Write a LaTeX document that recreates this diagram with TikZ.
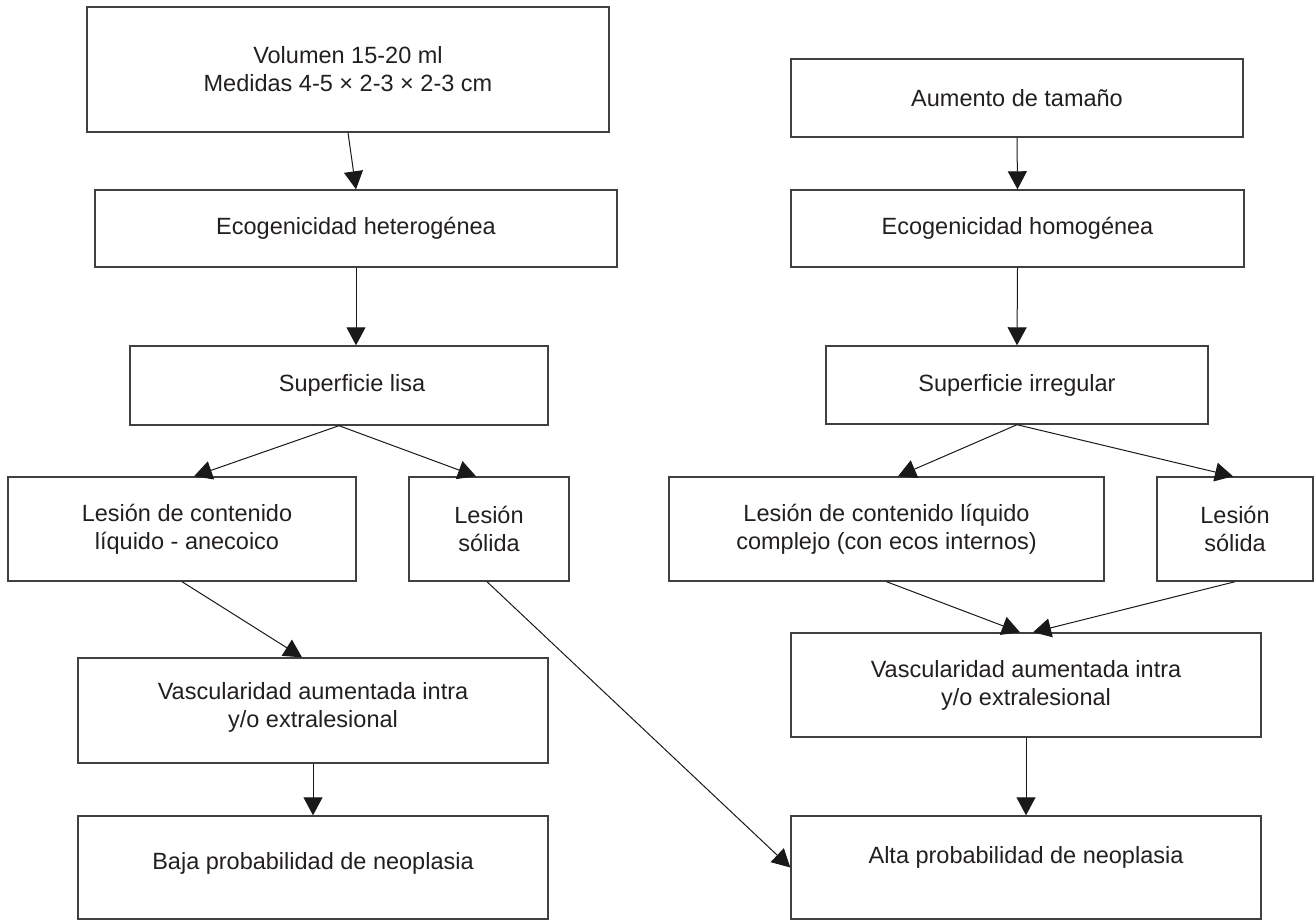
\documentclass[tikz,border=0pt]{standalone}
\usepackage{fontspec}
\setmainfont{Liberation Sans}
\usetikzlibrary{arrows.meta,calc}
\definecolor{boxline}{HTML}{404040}
\definecolor{txt}{HTML}{231F20}
\tikzset{
  flowbox/.style={draw=boxline, line width=1.4pt, rectangle, align=center, inner sep=0pt,
    text=txt, font=\fontsize{23.5pt}{28pt}\selectfont},
  flowarrow/.style={draw=black!90, line width=1pt, -{Triangle[length=18pt,width=19pt]}}
}
\begin{document}
\begin{tikzpicture}[x=1pt,y=-1pt]
\useasboundingbox (0,0) rectangle (1316,920);
% left column
\node[flowbox, minimum width=522pt, minimum height=125pt] (vol) at (348,69.5) {Volumen 15-20 ml\\Medidas 4-5 × 2-3 × 2-3 cm};
\node[flowbox, minimum width=522pt, minimum height=77pt] (ehet) at (356,228.5) {Ecogenicidad heterogénea};
\node[flowbox, minimum width=418pt, minimum height=79pt] (slisa) at (339,385.5) {\hspace*{26pt}Superficie lisa};
\node[flowbox, minimum width=348pt, minimum height=104pt] (lliq) at (182,529) {\hspace*{10pt}Lesión de contenido\\\hspace*{10pt}líquido - anecoico};
\node[flowbox, minimum width=160pt, minimum height=104pt] (lsol) at (489,529) {Lesión\\sólida};
\node[flowbox, minimum width=470pt, minimum height=105pt] (vascL) at (313,710.5) {\raisebox{3pt}[\height][\depth]{\begin{tabular}{@{}c@{}}Vascularidad aumentada intra\\y/o extralesional\end{tabular}}};
\node[flowbox, minimum width=470pt, minimum height=103pt] (baja) at (313,867.5) {\raisebox{4pt}[\height][\depth]{Baja probabilidad de neoplasia}};
% right column
\node[flowbox, minimum width=452pt, minimum height=78pt] (aum) at (1017,98) {Aumento de tamaño};
\node[flowbox, minimum width=453pt, minimum height=77pt] (ehom) at (1017.5,228.5) {Ecogenicidad homogénea};
\node[flowbox, minimum width=382pt, minimum height=78pt] (sirr) at (1017,385) {Superficie irregular};
\node[flowbox, minimum width=435pt, minimum height=104pt] (lcom) at (886.5,529) {Lesión de contenido líquido\\complejo (con ecos internos)};
\node[flowbox, minimum width=156pt, minimum height=104pt] (lsolR) at (1235,529) {Lesión\\sólida};
\node[flowbox, minimum width=470pt, minimum height=104pt] (vascR) at (1026,685) {Vascularidad aumentada intra\\y/o extralesional};
\node[flowbox, minimum width=470pt, minimum height=103pt] (alta) at (1026,867.5) {\raisebox{10pt}[\height][\depth]{Alta probabilidad de neoplasia}};
% connectors left
\draw[flowarrow] (vol.south) -- (ehet.north);
\draw[flowarrow] (ehet.south) -- (slisa.north -| ehet.south);
\draw[flowarrow] (slisa.south) -- ([xshift=12pt]lliq.north);
\draw[flowarrow] (slisa.south) -- ([xshift=-13pt]lsol.north);
\draw[flowarrow] (lliq.south) -- ([xshift=-11pt]vascL.north);
\draw[flowarrow] (vascL.south) -- (baja.north);
\draw[flowarrow] ([xshift=-2pt]lsol.south) -- (alta.west);
% connectors right
\draw[flowarrow] (aum.south) -- (ehom.north);
\draw[flowarrow] (ehom.south) -- (sirr.north);
\draw[flowarrow] (sirr.south) -- ([xshift=11.5pt]lcom.north);
\draw[flowarrow] (sirr.south) -- ([xshift=-2pt]lsolR.north);
\draw[flowarrow] (lcom.south) -- ([xshift=-6pt]vascR.north);
\draw[flowarrow] (lsolR.south) -- ([xshift=7pt]vascR.north);
\draw[flowarrow] (vascR.south) -- (alta.north);
\end{tikzpicture}
\end{document}
